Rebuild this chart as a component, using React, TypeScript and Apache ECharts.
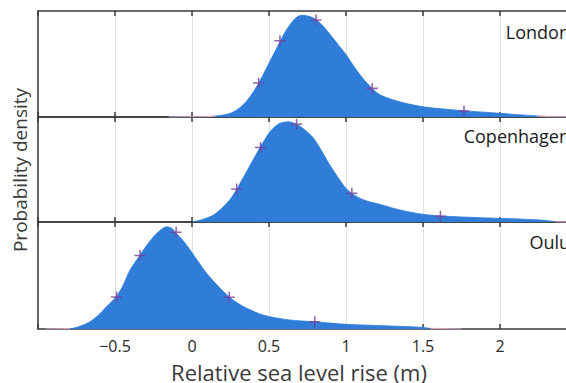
import React, { useEffect, useRef } from "react";
import * as echarts from "echarts";

const cities = ["London", "Copenhagen", "Oulu"];
const xTickLabels = ["−0.5", "0", "0.5", "1", "1.5", "2"];

const londonDensity: [number, number][] = [
  [-0.15, 0], [0.1, 0.003], [0.15, 0.008], [0.2, 0.018], [0.25, 0.035], [0.3, 0.075], [0.355, 0.15],
  [0.4, 0.24], [0.433, 0.32], [0.47, 0.42], [0.506, 0.525], [0.54, 0.62], [0.571, 0.71],
  [0.6, 0.79], [0.636, 0.87], [0.67, 0.93], [0.712, 0.96], [0.76, 0.95], [0.805, 0.92],
  [0.85, 0.86], [0.896, 0.78], [0.95, 0.68], [1.0, 0.59], [1.05, 0.48], [1.09, 0.4],
  [1.13, 0.33], [1.17, 0.27], [1.22, 0.21], [1.31, 0.16], [1.4, 0.125], [1.5, 0.097],
  [1.6, 0.08], [1.76, 0.06], [1.9, 0.045], [2.0, 0.035], [2.12, 0.022], [2.24, 0.01],
  [2.32, 0.003], [2.5, 0],
];
const copenhagenDensity: [number, number][] = [
  [0.0, 0], [0.07, 0.025], [0.14, 0.067], [0.2, 0.14], [0.25, 0.22], [0.29, 0.31],
  [0.32, 0.39], [0.355, 0.48], [0.4, 0.6], [0.442, 0.71], [0.475, 0.79], [0.506, 0.86],
  [0.54, 0.91], [0.571, 0.94], [0.626, 0.955], [0.68, 0.93], [0.73, 0.88], [0.788, 0.8],
  [0.84, 0.68], [0.896, 0.54], [0.95, 0.42], [1.0, 0.32], [1.04, 0.27], [1.1, 0.22],
  [1.16, 0.19], [1.24, 0.16], [1.35, 0.115], [1.5, 0.073], [1.615, 0.058], [1.75, 0.048],
  [2.0, 0.035], [2.15, 0.027], [2.3, 0.015], [2.36, 0.002], [2.5, 0],
];
const ouluDensity: [number, number][] = [
  [-0.95, 0], [-0.79, 0.003], [-0.72, 0.03], [-0.66, 0.07], [-0.6, 0.14], [-0.554, 0.21],
  [-0.494, 0.3], [-0.45, 0.4], [-0.403, 0.55], [-0.338, 0.69], [-0.29, 0.79], [-0.251, 0.86],
  [-0.2, 0.93], [-0.165, 0.955], [-0.13, 0.94], [-0.106, 0.9], [-0.06, 0.83], [-0.013, 0.74],
  [0.04, 0.63], [0.095, 0.52], [0.17, 0.4], [0.242, 0.3], [0.31, 0.23], [0.377, 0.18],
  [0.44, 0.14], [0.506, 0.115], [0.636, 0.084], [0.79, 0.068], [0.9, 0.055], [1.0, 0.044],
  [1.15, 0.035], [1.29, 0.028], [1.49, 0.016], [1.55, 0.005], [1.75, 0],
];

const londonQuantiles: [number, number][] = [[0.433, 0.32], [0.571, 0.72], [0.806, 0.915], [1.17, 0.27], [1.766, 0.057]];
const copenhagenQuantiles: [number, number][] = [[0.29, 0.314], [0.445, 0.71], [0.679, 0.93], [1.038, 0.273], [1.613, 0.055]];
const ouluQuantiles: [number, number][] = [[-0.49, 0.3], [-0.338, 0.687], [-0.103, 0.905], [0.242, 0.296], [0.797, 0.068]];

const densities = [londonDensity, copenhagenDensity, ouluDensity];
const quantiles = [londonQuantiles, copenhagenQuantiles, ouluQuantiles];

const FONT = "'Open Sans', 'Liberation Sans', sans-serif";
const BLUE = "#2f7dd9";
const PURPLE = "#7a3d9a";
const PINK = "#e7a3b4";
const AXIS = "#3a3a3a";
const TEXT = "#2a2a2a";
const TAIL = 0.012;

const PLUS = "path://M4.3,0 H5.7 V4.3 H10 V5.7 H5.7 V10 H4.3 V5.7 H0 V4.3 H4.3 Z";

const gridTops = [11, 117, 222];
const gridHeights = [106, 105, 107];

export default function App() {
  const ref = useRef<HTMLDivElement>(null);
  useEffect(() => {
    if (!ref.current) return;
    const chart = echarts.init(ref.current, null, { renderer: "svg" });
    const grids = gridTops.map((t, i) => ({
      left: 38, width: 539, top: t, height: gridHeights[i], outerBoundsMode: "none", containLabel: false,
    }));
    const xAxes: any[] = [];
    gridTops.forEach((_, i) => {
      const isLast = i === gridTops.length - 1;
      xAxes.push({
        type: "value", gridIndex: i, position: "bottom", min: -1, max: 2.5, interval: 0.5,
        axisLine: { show: true, onZero: false, lineStyle: { color: AXIS, width: 1.5 } },
        axisTick: { show: true, inside: true, length: 5, lineStyle: { color: AXIS, width: 1.5 } },
        splitLine: { show: true, lineStyle: { color: "#e2e2e2", width: 1 } },
        axisLabel: {
          show: isLast, margin: 9, fontSize: 16, fontFamily: FONT, color: TEXT,
          formatter: (v: number) => {
            const idx = Math.round((v + 0.5) / 0.5);
            return v >= -0.5 && v <= 2 ? xTickLabels[idx] : "";
          },
        },
      });
      xAxes.push({
        type: "value", gridIndex: i, position: "top", min: -1, max: 2.5, interval: 0.5,
        axisLine: { show: true, onZero: false, lineStyle: { color: AXIS, width: 1.5 } },
        axisTick: { show: true, inside: true, length: 5, lineStyle: { color: AXIS, width: 1.5 } },
        splitLine: { show: false },
        axisLabel: { show: false },
      });
    });
    const yAxes = gridTops.map((_, i) => ({
      type: "value", gridIndex: i, min: 0, max: 1, position: "left",
      axisLine: { show: true, onZero: false, lineStyle: { color: AXIS, width: 1.5 } },
      axisTick: { show: false }, axisLabel: { show: false }, splitLine: { show: false },
    }));
    const series: any[] = [];
    densities.forEach((d, i) => {
      const tails = d.map(([x, y]) => (y <= TAIL ? [x, y] : [x, null]));
      series.push({
        type: "line", xAxisIndex: i * 2, yAxisIndex: i, data: d, smooth: 0.3,
        showSymbol: false, z: 2, lineStyle: { color: BLUE, width: 0.8 }, areaStyle: { color: BLUE, opacity: 1 },
      });
      series.push({
        type: "line", xAxisIndex: i * 2, yAxisIndex: i, data: tails, connectNulls: false,
        showSymbol: false, z: 3, lineStyle: { color: PINK, width: 1.2 },
      });
      series.push({
        type: "scatter", xAxisIndex: i * 2, yAxisIndex: i, data: quantiles[i], z: 4,
        symbol: PLUS, symbolSize: 11, itemStyle: { color: PURPLE },
      });
    });
    const labelYs = [32, 136, 241.5];
    const graphic: any[] = cities.map((c, i) => ({
      type: "text", x: 570, y: labelYs[i], z: 10,
      style: { text: c, fontSize: 18, fontFamily: FONT, fill: "#1a1a1a", textAlign: "right", textVerticalAlign: "middle" },
    }));
    graphic.push({
      type: "text", x: 299, y: 372, z: 10,
      style: { text: "Relative sea level rise (m)", fontSize: 22, fontFamily: FONT, fill: "#3a3a3a", textAlign: "center", textVerticalAlign: "middle" },
    });
    graphic.push({
      type: "text", x: 20, y: 170, rotation: Math.PI / 2, z: 10,
      style: { text: "Probability density", fontSize: 19, fontFamily: FONT, fill: "#3a3a3a", textAlign: "center", textVerticalAlign: "middle" },
    });
    chart.setOption({
      animation: false,
      backgroundColor: "#ffffff",
      grid: grids,
      xAxis: xAxes,
      yAxis: yAxes,
      series,
      graphic,
    });
    return () => chart.dispose();
  }, []);
  return (
    <div style={{ position: "absolute", left: 0, top: 0, width: 566, height: 383, overflow: "hidden" }}>
      <div ref={ref} style={{ width: 600, height: 383 }} />
    </div>
  );
}
